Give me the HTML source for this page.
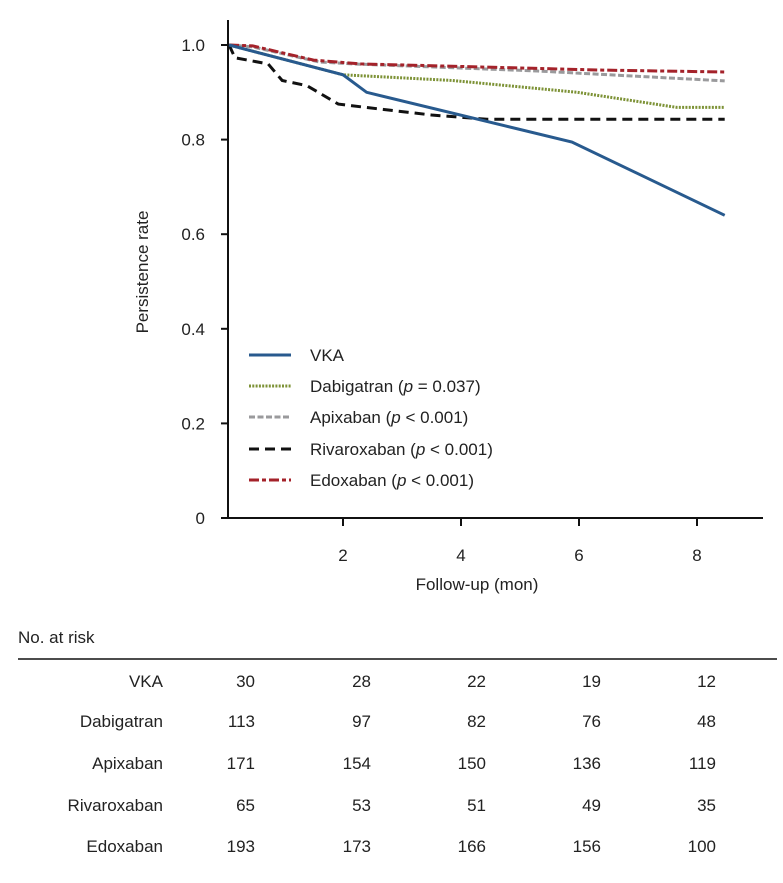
<!DOCTYPE html>
<html><head><meta charset="utf-8">
<style>
body{margin:0;background:#fff;font-family:"Liberation Sans",sans-serif;}
svg text{font-family:"Liberation Sans",sans-serif;fill:#222;}
</style></head>
<body>
<svg width="783" height="878" viewBox="0 0 783 878">
<g id="axes"></g><g id="series"></g><g id="legend"></g><g id="table"></g>
</svg>
<script>
const xTicks=[2,4,6,8];
const yTicks=[0,0.2,0.4,0.6,0.8,1.0];
const yTickLabels=["0","0.2","0.4","0.6","0.8","1.0"];
const seriesNames=["VKA","Dabigatran","Apixaban","Rivaroxaban","Edoxaban"];
const legendLabels=["VKA","Dabigatran (p = 0.037)","Apixaban (p < 0.001)","Rivaroxaban (p < 0.001)","Edoxaban (p < 0.001)"];
const vkaT=[0.07,2.0,2.4,5.88,8.47];
const vkaV=[1.0,0.937,0.90,0.795,0.64];
const dabT=[0.07,2.0,3.86,5.97,7.66,8.47];
const dabV=[1.0,0.937,0.925,0.90,0.868,0.868];
const apiT=[0.07,0.47,1.6,2.17,5.3,8.47];
const apiV=[1.0,0.996,0.964,0.96,0.945,0.924];
const rivT=[0.07,0.17,0.73,0.97,1.39,1.92,2.46,3.5,4.44,8.47];
const rivV=[1.0,0.973,0.96,0.925,0.914,0.875,0.867,0.852,0.843,0.843];
const edoT=[0.07,0.47,1.5,2.3,6.4,8.47];
const edoV=[1.0,0.998,0.968,0.96,0.947,0.943];
const riskRows=["VKA","Dabigatran","Apixaban","Rivaroxaban","Edoxaban"];
const riskVKA=[30,28,22,19,12];
const riskDab=[113,97,82,76,48];
const riskApi=[171,154,150,136,119];
const riskRiv=[65,53,51,49,35];
const riskEdo=[193,173,166,156,100];

const NS="http://www.w3.org/2000/svg";
const X=t=>225+59*t;
const Y=v=>518-473*v;
function mk(tag,attrs,parent,text){const e=document.createElementNS(NS,tag);for(const k in attrs)e.setAttribute(k,attrs[k]);if(text!==undefined)e.textContent=text;parent.appendChild(e);return e;}
const axes=document.getElementById('axes');
let e=mk('path',{d:`M228 20 V518 H763`,fill:'none',stroke:'#111','stroke-width':2},axes);

yTicks.forEach((v,i)=>{
  let t=mk('line',{x1:221,x2:228,y1:Y(v),y2:Y(v),stroke:'#111','stroke-width':2},axes);
  
  let l=mk('text',{x:205,y:Y(v)+6,'text-anchor':'end','font-size':17},axes,yTickLabels[i]);
  
});
xTicks.forEach(v=>{
  let t=mk('line',{x1:X(v),x2:X(v),y1:518,y2:526,stroke:'#111','stroke-width':2},axes);
  
  let l=mk('text',{x:X(v),y:561,'text-anchor':'middle','font-size':17},axes,String(v));
  
});
e=mk('text',{x:0,y:0,transform:'translate(148,272) rotate(-90)','text-anchor':'middle','font-size':17},axes,'Persistence rate');

e=mk('text',{x:477,y:590,'text-anchor':'middle','font-size':17},axes,'Follow-up (mon)');


const styles=[
 {c:'#285a8e',d:'',w:3},
 {c:'#7d9236',d:'2 1.3',w:3},
 {c:'#9a9a9c',d:'6 2.5',w:3},
 {c:'#111111',d:'10 6',w:3},
 {c:'#a4222a',d:'10 3 4 3',w:3}];
const data=[[vkaT,vkaV],[dabT,dabV],[apiT,apiV],[rivT,rivV],[edoT,edoV]];
const order=[1,2,4,3,0];
const sg=document.getElementById('series');
order.forEach(i=>{
  const [T,V]=data[i];
  const d=T.map((t,j)=>(j?'L':'M')+X(t).toFixed(1)+' '+Y(V[j]).toFixed(1)).join(' ');
  let p=mk('path',{d,fill:'none',stroke:styles[i].c,'stroke-width':styles[i].w,'stroke-dasharray':styles[i].d},sg);
  
  
});
const lg=document.getElementById('legend');
const ly=[355,386,417,449,480];
legendLabels.forEach((lab,i)=>{
  let l=mk('line',{x1:249,x2:291,y1:ly[i],y2:ly[i],stroke:styles[i].c,'stroke-width':3,'stroke-dasharray':styles[i].d},lg);
  
  let t=mk('text',{x:310,y:ly[i]+6,'font-size':17},lg);
  
  const m=lab.match(/^(.*\()p( .*)$/);
  if(m){mk('tspan',{},t,m[1]);mk('tspan',{'font-style':'italic'},t,'p');mk('tspan',{},t,m[2]);}
  else t.textContent=lab;
});
const tb=document.getElementById('table');
e=mk('text',{x:18,y:643,'font-size':17},tb,'No. at risk');

e=mk('line',{x1:18,x2:777,y1:659,y2:659,stroke:'#111','stroke-width':1.5},tb);

const riskData=[riskVKA,riskDab,riskApi,riskRiv,riskEdo];
const ry=[681,721,763,805,846];
const colX=[255,371,486,601,716];
riskRows.forEach((r,i)=>{
  let t=mk('text',{x:163,y:ry[i]+6,'text-anchor':'end','font-size':17},tb,r);
  
  riskData[i].forEach((v,j)=>{
    let c=mk('text',{x:colX[j],y:ry[i]+6,'text-anchor':'end','font-size':17},tb,String(v));
    
  });
});
</script>
</body></html>
